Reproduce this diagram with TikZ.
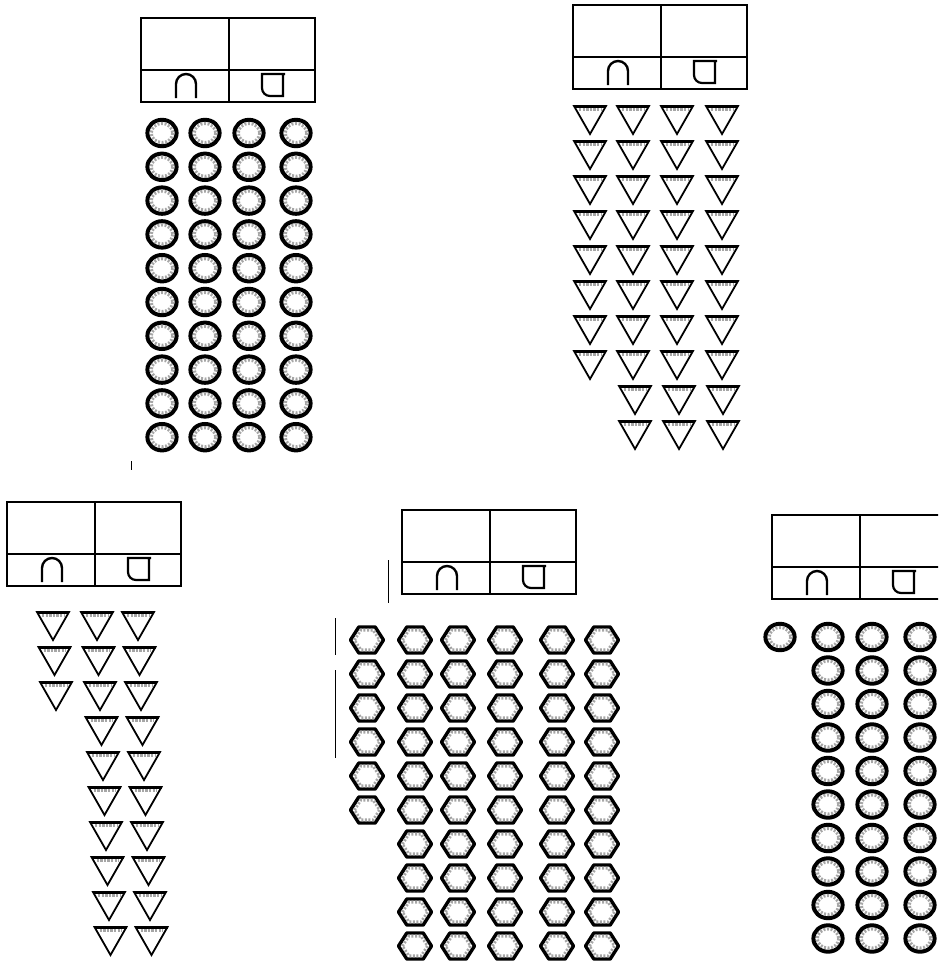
\documentclass[tikz,border=0pt]{standalone}
\tikzset{
  % header table with tens and ones signs
  placebox/.pic={
    \draw[line width=1.1pt] (0,0) rectangle (174,84);
    \draw[line width=1.1pt] (0,52) -- (174,52);
    \draw[line width=1.1pt] (88,0) -- (88,84);
    \draw[line width=2.4pt] (35,80) -- (35,66) arc[start angle=180, end angle=360, radius=10] -- (55,80);
    \draw[line width=2.2pt] (144,56) -- (121,56) -- (121,70) arc[start angle=180, end angle=90, radius=8] -- (142,78) -- (142,56);
  },
  ring/.pic={
    \draw[line width=4pt] (0,0) ellipse (14.6 and 13.2);
    \draw[gray!70, line width=3.2pt, dash pattern=on 2pt off 1.6pt] (0,0) ellipse (10.8 and 9.6);
  },
  hexa/.pic={
    \draw[line width=3.4pt, line join=round] (-16.5,0) -- (-8.2,-13) -- (8.2,-13) -- (16.5,0) -- (8.2,13) -- (-8.2,13) -- cycle;
    \draw[gray!70, line width=3pt, dash pattern=on 2pt off 1.6pt] (-12.6,0) -- (-6.3,-9.8) -- (6.3,-9.8) -- (12.6,0) -- (6.3,9.8) -- (-6.3,9.8) -- cycle;
  },
  tri/.pic={
    \draw[line width=1.8pt, line join=miter] (-16,0) -- (16,0) -- (0,28) -- cycle;
    \draw[gray!70, line width=3.6pt, dash pattern=on 2.4pt off 1.2pt] (-11,3.6) -- (11,3.6);
    \draw[line width=2.8pt] (-16,0.6) -- (16,0.6);
  }
}
\begin{document}
\begin{tikzpicture}[x=1pt, y=-1pt]
  \useasboundingbox (0,0) rectangle (938,967);
  \clip (0,0) rectangle (938,967);
  \fill[white] (0,0) rectangle (938,967);

  % Top left: forty rings
  \pic at (141,18) {placebox};
  \foreach \r in {0,...,9}
    \foreach \x in {162,205,249,296}
      \pic at (\x,{133+33.8*\r}) {ring};
  \draw[line width=0.8pt] (131,461) -- (131,470);

  % Top right: thirty-eight triangles
  \pic at (573,5) {placebox};
  \foreach \r in {0,...,7}
    \foreach \x in {590,633,677,722}
      \pic at (\x,{106+35*\r}) {tri};
  \foreach \r in {8,9}
    \foreach \x in {635,679,723}
      \pic at (\x,{106+35*\r}) {tri};

  % Bottom left: twenty-three triangles
  \pic at (7,502) {placebox};
  \foreach \r in {0,...,2}
    \foreach \x in {53,97,138}
      \pic at ({\x+1.5*\r},{612+35*\r}) {tri};
  \foreach \r in {3,...,9}
    \foreach \x in {97,138}
      \pic at ({\x+1.5*\r},{612+35*\r}) {tri};

  % Bottom middle: fifty-six hexagons
  \pic at (402,510) {placebox};
  \foreach \r in {0,...,5}
    \pic at (367,{640+34*\r}) {hexa};
  \foreach \r in {0,...,9}
    \foreach \x in {415,458,505,557,602}
      \pic at (\x,{640+34*\r}) {hexa};
  \draw[line width=1pt] (335,618) -- (335,655) (335,670) -- (335,758);
  \draw[line width=1pt] (388,560) -- (388,603);

  % Bottom right: rings, cut at the edge
  \pic at (772,515) {placebox};
  \pic at (780,637) {ring};
  \foreach \r in {0,...,9}
    \foreach \x in {828,872,920}
      \pic at (\x,{637+33.5*\r}) {ring};
\end{tikzpicture}
\end{document}
